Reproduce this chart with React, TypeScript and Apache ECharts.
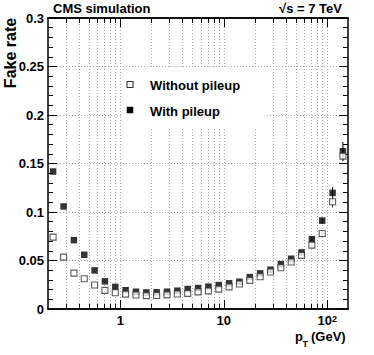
import React, { useEffect, useRef } from 'react';
import * as echarts from 'echarts';

// Bin centres in pT (GeV), log-spaced bins
const ptBins = [0.224, 0.283, 0.356, 0.448, 0.564, 0.710, 0.894, 1.125, 1.416, 1.783,
  2.244, 2.825, 3.557, 4.477, 5.637, 7.096, 8.934, 11.25, 14.16, 17.83,
  22.44, 28.25, 35.57, 44.77, 56.37, 70.96, 89.34, 112.5, 141.6];

const withPileup = [0.1417, 0.1057, 0.0710, 0.0559, 0.0398, 0.0285, 0.0228, 0.0194, 0.0178, 0.0171,
  0.0172, 0.0178, 0.0189, 0.0206, 0.0216, 0.0230, 0.0247, 0.0265, 0.0281, 0.0329,
  0.0367, 0.0405, 0.0463, 0.0518, 0.0583, 0.0720, 0.0911, 0.1197, 0.1626];
const withPileupErr = [0, 0, 0, 0, 0, 0, 0, 0, 0, 0,
  0, 0, 0, 0, 0, 0, 0, 0, 0, 0,
  0, 0, 0, 0, 0, 0.002, 0.003, 0.006, 0.0095];

const withoutPileup = [0.0741, 0.0535, 0.0370, 0.0312, 0.0247, 0.0192, 0.0168, 0.0153, 0.0145, 0.0138,
  0.0139, 0.0146, 0.0154, 0.0161, 0.0177, 0.0187, 0.0205, 0.0228, 0.0257, 0.0295,
  0.0333, 0.0381, 0.0425, 0.0484, 0.0553, 0.0659, 0.0779, 0.1106, 0.1576];
const withoutPileupErr = [0, 0, 0, 0, 0, 0, 0, 0, 0, 0,
  0, 0, 0, 0, 0, 0, 0, 0, 0, 0,
  0, 0, 0, 0, 0, 0.002, 0.003, 0.006, 0.005];

const majorXTicks = [1, 10, 100];
const minorXTicks = [0.3, 0.4, 0.5, 0.6, 0.7, 0.8, 0.9, 2, 3, 4, 5, 6, 7, 8, 9, 20, 30, 40, 50, 60, 70, 80, 90];
const yTicks = { min: 0, max: 0.3, interval: 0.05 };
const xRange = { min: 0.2, max: 158.5 };

const FONT = '"Liberation Sans", Arial, Helvetica, sans-serif';
const gridLine = { color: '#aaa', type: [1, 2] as any, width: 1 };

function logAxis(position: string, values: number[], len: number, label: boolean, split: boolean) {
  return {
    type: 'log',
    logBase: 10,
    min: xRange.min,
    max: xRange.max,
    position,
    gridIndex: 0,
    axisLine: { show: true, onZero: false, lineStyle: { color: '#000', width: 1.5 } },
    axisTick: { show: true, inside: true, length: len, customValues: values, lineStyle: { color: '#000', width: 1 } },
    axisLabel: label
      ? {
          show: true,
          customValues: values,
          margin: 5,
          formatter: (v: number) => {
            const e = Math.round(Math.log10(v));
            if (e >= 2) return '{b|10}{s|' + e + '}';
            return '{b|' + String(Math.round(v)) + '}';
          },
          rich: {
            b: { fontSize: 13, fontWeight: 'bold', fontFamily: FONT, color: '#000' },
            s: { fontSize: 9, fontWeight: 'bold', fontFamily: FONT, color: '#000', verticalAlign: 'top' },
          },
        }
      : { show: false },
    splitLine: { show: split, lineStyle: gridLine },
    minorTick: { show: false },
    minorSplitLine: { show: false },
  };
}

function valueAxis(position: string, label: boolean, split: boolean) {
  return {
    type: 'value',
    min: yTicks.min,
    max: yTicks.max,
    interval: yTicks.interval,
    position,
    axisLine: { show: true, onZero: false, lineStyle: { color: '#000', width: 1.5 } },
    axisTick: { show: true, inside: true, length: 9, lineStyle: { color: '#000', width: 1 } },
    minorTick: { show: true, splitNumber: 5, length: 5, lineStyle: { color: '#000', width: 1 } },
    axisLabel: label
      ? { show: true, color: '#000', fontWeight: 'bold', fontSize: 13, fontFamily: FONT, margin: 4 }
      : { show: false },
    splitLine: { show: split, lineStyle: gridLine },
  };
}

function errSeries(vals: number[], errs: number[], color: string) {
  return {
    type: 'custom',
    xAxisIndex: 0,
    yAxisIndex: 0,
    silent: true,
    z: 1,
    data: ptBins.map((x, i) => [x, vals[i], errs[i]]),
    renderItem: (_params: any, api: any) => {
      const x = api.value(0);
      const y = api.value(1);
      const e = api.value(2);
      if (!e) return { type: 'group', children: [] };
      const p1 = api.coord([x, y - e]);
      const p2 = api.coord([x, y + e]);
      return {
        type: 'line',
        shape: { x1: p1[0], y1: p1[1], x2: p2[0], y2: p2[1] },
        style: { stroke: color, lineWidth: 1 },
      };
    },
  };
}

function txt(text: string, x: number, y: number, size: number, align = 'left', extra: any = {}) {
  return {
    type: 'text',
    x,
    y,
    z: 110,
    ...extra,
    style: {
      text,
      fill: '#000',
      fontSize: size,
      fontWeight: 'bold',
      fontFamily: FONT,
      textAlign: align,
      textVerticalAlign: 'middle',
    },
  };
}

export default function App() {
  const ref = useRef<HTMLDivElement>(null);
  useEffect(() => {
    const chart = echarts.init(ref.current!, null, { renderer: 'svg' });
    const option: any = {
      animation: false,
      backgroundColor: '#fff',
      grid: { left: 48, right: 26, top: 18, bottom: 46, show: false },
      xAxis: [
        logAxis('bottom', majorXTicks, 9, true, true),
        logAxis('bottom', minorXTicks, 5, false, true),
        logAxis('top', majorXTicks, 9, false, false),
        logAxis('top', minorXTicks, 5, false, false),
      ],
      yAxis: [valueAxis('left', true, true), valueAxis('right', false, false)],
      series: [
        errSeries(withPileup, withPileupErr, '#000'),
        errSeries(withoutPileup, withoutPileupErr, '#333'),
        {
          name: 'With pileup',
          type: 'scatter',
          xAxisIndex: 0,
          yAxisIndex: 0,
          symbol: 'rect',
          symbolSize: 6.5,
          z: 3,
          itemStyle: { color: '#000' },
          data: ptBins.map((x, i) => [x, withPileup[i]]),
        },
        {
          name: 'Without pileup',
          type: 'scatter',
          xAxisIndex: 0,
          yAxisIndex: 0,
          symbol: 'rect',
          symbolSize: 6,
          z: 4,
          itemStyle: { color: '#fff', borderColor: '#333', borderWidth: 1.1 },
          data: ptBins.map((x, i) => [x, withoutPileup[i]]),
        },
      ],
      graphic: [
        { type: 'rect', z: 100, shape: { x: 122, y: 68, width: 143, height: 59 }, style: { fill: '#fff' } },
        { type: 'rect', z: 110, shape: { x: 127, y: 81.5, width: 6, height: 6 }, style: { fill: '#fff', stroke: '#333', lineWidth: 1.1 } },
        { type: 'rect', z: 110, shape: { x: 126.75, y: 106.75, width: 6.5, height: 6.5 }, style: { fill: '#000' } },
        txt('Without pileup', 150, 85, 13),
        txt('With pileup', 150, 111.5, 13),
        txt('CMS simulation', 53, 8, 13),
        txt('√s = 7 TeV', 342, 8, 13, 'right'),
        txt('Fake rate', 10, 53, 16, 'center', { rotation: Math.PI / 2 }),
        txt('p', 295, 336, 13),
        txt('T', 302.5, 344, 9),
        txt('(GeV)', 311, 336, 13),
      ],
    };
    chart.setOption(option);
    return () => chart.dispose();
  }, []);
  return (
    <div
      ref={ref}
      style={{ position: 'absolute', left: 0, top: 0, width: 374, height: 355, background: '#fff' }}
    />
  );
}
